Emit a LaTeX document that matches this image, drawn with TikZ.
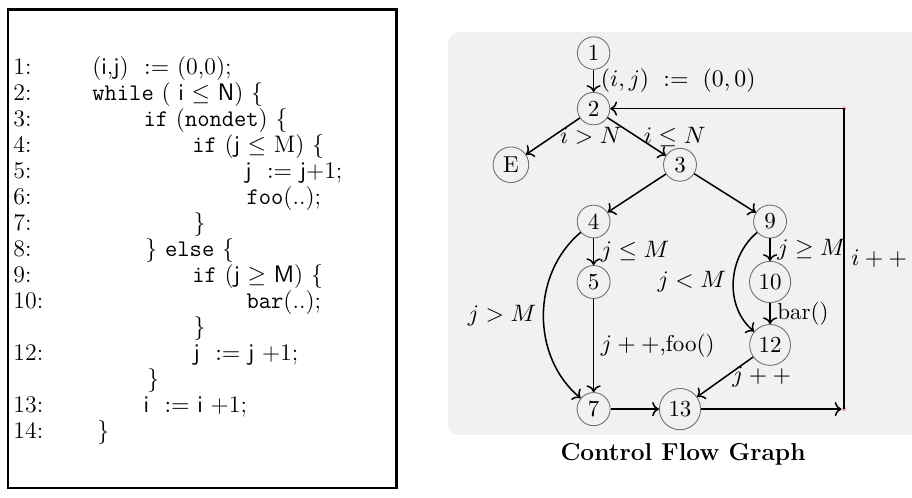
\documentclass[tikz,border=0pt]{standalone}
\usepackage{amsmath}
\usetikzlibrary{arrows.meta, positioning, calc}
\definecolor{panel}{HTML}{F1F1F1}
\definecolor{ring}{HTML}{6E6E6E}
\definecolor{pin}{HTML}{F2A3A3}
\newcommand{\cvar}[1]{\textsf{#1}}
\newcommand{\ckw}[1]{\texttt{#1}}
\tikzset{
  blk/.style={circle, draw=ring, thin, inner sep=2.2pt},
  flow/.style={->, line width=0.7pt, color=black},
  lbl/.style={inner sep=3pt},
  pinpt/.style={circle, fill=pin, inner sep=0pt, minimum size=2pt},
}

\begin{document}
\begin{tikzpicture}[font=\fontsize{10.6}{12.7}\selectfont,
        num/.style={anchor=base west, inner sep=0pt, font=\fontsize{11}{13}\selectfont},
        code/.style={anchor=base west, inner sep=0pt, font=\fontsize{11}{13}\selectfont}]
        \useasboundingbox (0,0) rectangle (14.78,-8.07);
        % listing
        \draw[line width=1.2pt] (0.13,-0.15) rectangle (6.43,-7.91);
        \node[num] (l1) at (0.21,-1.200) {1:};
        \node[num] (l2) at (0.21,-1.622) {2:};
        \node[num] (l3) at (0.21,-2.044) {3:};
        \node[num] (l4) at (0.21,-2.465) {4:};
        \node[num] (l5) at (0.21,-2.887) {5:};
        \node[num] (l6) at (0.21,-3.309) {6:};
        \node[num] (l7) at (0.21,-3.731) {7:};
        \node[num] (l8) at (0.21,-4.153) {8:};
        \node[num] (l9) at (0.21,-4.574) {9:};
        \node[num] (l10) at (0.21,-4.996) {10:};
        \node[num] (l12) at (0.21,-5.840) {12:};
        \node[num] (l13) at (0.21,-6.683) {13:};
        \node[num] (l14) at (0.21,-7.105) {14:};
        \node[code] (c1) at (1.49,-1.200) {(\cvar{i},\cvar{j})~~$:=$ (0,0);};
        \node[code] (c2) at (1.49,-1.622) {\ckw{while} ( \cvar{i} $\leq$ \cvar{N}) \{};
        \node[code] (c3) at (2.32,-2.044) {\ckw{if} (\ckw{nondet}) \{};
        \node[code] (c4) at (3.11,-2.465) {\ckw{if} (\cvar{j} $\leq$ M) \{};
        \node[code] (c5) at (3.97,-2.887) {\cvar{j}~~$:=$ \cvar{j}+1;};
        \node[code] (c6) at (3.99,-3.309) {\ckw{foo}(..);};
        \node[code] (c7) at (3.13,-3.731) {\}};
        \node[code] (c8) at (2.35,-4.153) {\} \ckw{else} \{};
        \node[code] (c9) at (3.11,-4.574) {\ckw{if} (\cvar{j} $\geq$ \cvar{M}) \{};
        \node[code] (c10) at (3.99,-4.996) {\ckw{bar}(..);};
        \node[code] (c11) at (3.13,-5.418) {\}};
        \node[code] (c12) at (3.13,-5.840) {\cvar{j}~~$:=$ \cvar{j} +1;};
        \node[code] (c13) at (2.38,-6.262) {\}};
        \node[code] (c14) at (2.32,-6.683) {\cvar{i}~~$:=$ \cvar{i} +1;};
        \node[code] (c15) at (1.57,-7.105) {\}};
        % graph
        \fill[panel, rounded corners=5pt] (7.26,-0.52) rectangle (15.2,-7.05);
        \node[blk] (v1) at (9.62,-0.86) {1};
        \node[blk] (v2) at (9.62,-1.76) {2};
        \node[blk] (vE) at (8.28,-2.67) {E};
        \node[blk] (v3) at (11.02,-2.67) {3};
        \node[blk] (v4) at (9.62,-3.59) {4};
        \node[blk] (v9) at (12.48,-3.59) {9};
        \node[blk] (v5) at (9.62,-4.57) {5};
        \node[blk] (v10) at (12.48,-4.57) {10};
        \node[blk] (v12) at (12.48,-5.59) {12};
        \node[blk] (v7) at (9.62,-6.63) {7};
        \node[blk] (v13) at (11.02,-6.63) {13};
        \node[pinpt] (rb) at (13.68,-6.63) {};
        \node[pinpt] (rt) at (13.68,-1.76) {};
        \draw[flow] (v1) -- node[lbl,right] {$(i,j)\ :=\ (0,0)$} (v2);
        \draw[flow] (v2) -- node[lbl,right] {$i>N$} (vE);
        \draw[flow] (v2) -- node[lbl,right] {$i\leq N$} (v3);
        \draw[flow] (v3) -- (v4);
        \draw[flow] (v3) -- (v9);
        \draw[flow] (v4) -- node[lbl,right] {$j\leq M$} (v5);
        \draw[flow] (v4) to[out=220,in=140] node[lbl,left] {$j>M$} (v7);
        \draw[flow] (v5) -- node[lbl,right] {$j++$,foo()} (v7);
        \draw[flow] (v9) -- node[lbl,right] {$j\geq M$} (v10);
        \draw[flow] (v9) to[out=220,in=140] node[lbl,left] {$j<M$} (v12);
        \draw[flow] (v10) -- node[lbl,right] {bar()} (v12);
        \draw[flow] (v12) -- node[lbl,right] {$j++$} (v13);
        \draw[flow] (v7) -- (v13);
        \draw[flow] (v13) -- (rb);
        \draw[flow] (rb.center) -- node[lbl,right] {$i++$} (rt.center) -- (v2);
        \node[font=\fontsize{11.3}{13}\selectfont\bfseries] (title) at (11.07,-7.37) {Control Flow Graph};
\end{tikzpicture}
\end{document}
